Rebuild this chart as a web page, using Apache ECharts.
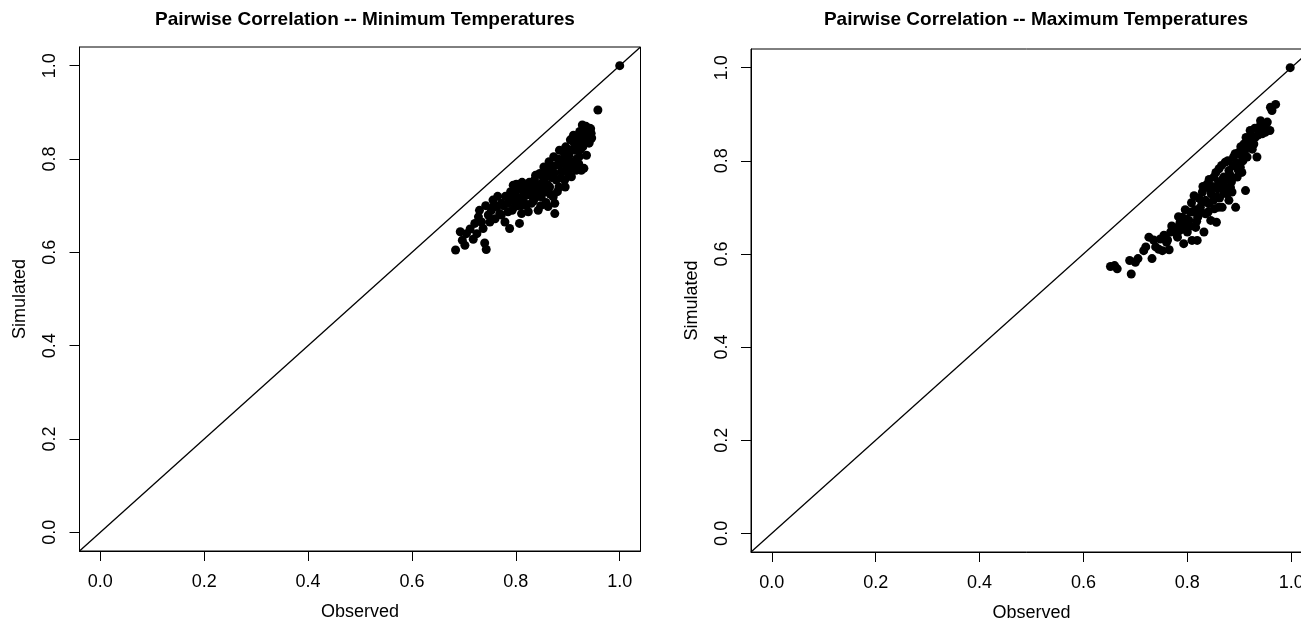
<!DOCTYPE html>
<html>
<head>
<meta charset="utf-8">
<script src="https://cdn.jsdelivr.net/npm/echarts@6/dist/echarts.min.js"></script>
<style>
  html, body { margin: 0; padding: 0; background: #fff; }
  #chart { width: 1301px; height: 618px; }
</style>
</head>
<body>
<div id="chart"></div>
<script>
// tick positions shared by both panels
var tickVals = [0, 0.2, 0.4, 0.6, 0.8, 1.0]
// y = x reference line, drawn across the padded axis range
var diagonal = [-0.04, 1.04]

// minimum temperatures
var minObserved = [0.684, 0.693, 0.697, 0.702, 0.718, 0.721, 0.734, 0.737, 0.740, 0.743,
  0.747, 0.753, 0.756, 0.763, 0.769, 0.772, 0.779, 0.785, 0.788, 0.791,
  0.795, 0.798, 0.801, 0.807, 0.807, 0.811, 0.814, 0.817, 0.822, 0.824,
  0.827, 0.830, 0.833, 0.836, 0.840, 0.843, 0.845, 0.846, 0.849, 0.851,
  0.854, 0.856, 0.859, 0.862, 0.864, 0.865, 0.868, 0.872, 0.873, 0.875,
  0.878, 0.879, 0.883, 0.884, 0.888, 0.891, 0.894, 0.896, 0.899, 0.902,
  0.905, 0.907, 0.909, 0.911, 0.913, 0.916, 0.918, 0.922, 0.923, 0.926,
  0.928, 0.929, 0.932, 0.934, 0.936, 0.939, 0.942, 0.943, 0.941, 0.945,
  0.931, 0.902, 0.875, 0.958, 1.000, 0.760, 0.776, 0.790, 0.804, 0.820,
  0.838, 0.853, 0.870, 0.886, 0.897, 0.915, 0.925, 0.812, 0.858, 0.728,
  0.705, 0.712, 0.725, 0.730, 0.742, 0.750, 0.758, 0.765, 0.772, 0.780,
  0.784, 0.793, 0.796, 0.800, 0.805, 0.810, 0.816, 0.820, 0.826, 0.830,
  0.834, 0.838, 0.842, 0.848, 0.852, 0.857, 0.861, 0.866, 0.870, 0.874,
  0.880, 0.882, 0.887, 0.892, 0.895, 0.900, 0.904, 0.908, 0.912, 0.917,
  0.920, 0.924, 0.927, 0.933, 0.938, 0.944, 0.946, 0.935, 0.921, 0.895]
var minSimulated = [0.605, 0.644, 0.626, 0.615, 0.628, 0.662, 0.665, 0.651, 0.620, 0.606,
  0.680, 0.690, 0.712, 0.698, 0.683, 0.705, 0.665, 0.687, 0.651, 0.719,
  0.744, 0.698, 0.746, 0.662, 0.716, 0.683, 0.733, 0.705, 0.740, 0.687,
  0.723, 0.705, 0.740, 0.755, 0.719, 0.690, 0.737, 0.769, 0.719, 0.748,
  0.783, 0.730, 0.762, 0.698, 0.794, 0.740, 0.773, 0.719, 0.805, 0.705,
  0.755, 0.787, 0.740, 0.819, 0.773, 0.798, 0.755, 0.826, 0.783, 0.808,
  0.841, 0.762, 0.794, 0.851, 0.819, 0.776, 0.841, 0.805, 0.859, 0.776,
  0.873, 0.826, 0.844, 0.862, 0.808, 0.851, 0.866, 0.841, 0.834, 0.855,
  0.780, 0.766, 0.683, 0.905, 1.000, 0.672, 0.700, 0.730, 0.700, 0.722,
  0.730, 0.760, 0.760, 0.790, 0.800, 0.830, 0.840, 0.750, 0.707, 0.676,
  0.640, 0.650, 0.640, 0.690, 0.700, 0.665, 0.700, 0.720, 0.680, 0.720,
  0.705, 0.690, 0.712, 0.730, 0.745, 0.700, 0.725, 0.700, 0.750, 0.730,
  0.710, 0.765, 0.745, 0.700, 0.735, 0.775, 0.745, 0.725, 0.785, 0.770,
  0.730, 0.800, 0.760, 0.815, 0.775, 0.790, 0.820, 0.780, 0.835, 0.800,
  0.850, 0.820, 0.860, 0.835, 0.845, 0.865, 0.845, 0.870, 0.790, 0.740]

// maximum temperatures
var maxObserved = [0.652, 0.665, 0.689, 0.692, 0.700, 0.716, 0.726, 0.732, 0.739, 0.748,
  0.752, 0.765, 0.768, 0.774, 0.781, 0.786, 0.790, 0.793, 0.800, 0.803,
  0.806, 0.809, 0.813, 0.816, 0.819, 0.820, 0.825, 0.829, 0.832, 0.835,
  0.838, 0.841, 0.845, 0.846, 0.851, 0.852, 0.856, 0.857, 0.861, 0.864,
  0.867, 0.870, 0.873, 0.877, 0.880, 0.883, 0.886, 0.889, 0.893, 0.896,
  0.899, 0.902, 0.905, 0.909, 0.912, 0.915, 0.918, 0.921, 0.925, 0.928,
  0.931, 0.934, 0.938, 0.941, 0.944, 0.947, 0.950, 0.954, 0.959, 0.960,
  0.970, 0.963, 0.998, 0.795, 0.812, 0.828, 0.843, 0.860, 0.875, 0.890,
  0.905, 0.920, 0.760, 0.785, 0.870,
  0.660, 0.705, 0.720, 0.735, 0.745, 0.755, 0.762, 0.770, 0.778, 0.783,
  0.788, 0.796, 0.798, 0.805, 0.808, 0.815, 0.818, 0.822, 0.826, 0.830,
  0.835, 0.840, 0.842, 0.848, 0.850, 0.855, 0.858, 0.862, 0.866, 0.868,
  0.872, 0.878, 0.882, 0.885, 0.888, 0.892, 0.895, 0.898, 0.903, 0.907,
  0.910, 0.913, 0.916, 0.923, 0.926, 0.930, 0.936, 0.940, 0.946, 0.952,
  0.860, 0.880]
var maxSimulated = [0.573, 0.568, 0.586, 0.557, 0.582, 0.607, 0.636, 0.590, 0.615, 0.632,
  0.607, 0.609, 0.647, 0.657, 0.636, 0.668, 0.679, 0.622, 0.647, 0.672,
  0.690, 0.629, 0.725, 0.657, 0.629, 0.679, 0.700, 0.733, 0.647, 0.686,
  0.750, 0.708, 0.672, 0.729, 0.765, 0.697, 0.668, 0.722, 0.783, 0.743,
  0.700, 0.765, 0.797, 0.729, 0.779, 0.743, 0.733, 0.808, 0.700, 0.765,
  0.818, 0.786, 0.775, 0.836, 0.736, 0.808, 0.847, 0.865, 0.825, 0.836,
  0.851, 0.808, 0.868, 0.886, 0.858, 0.876, 0.861, 0.883, 0.865, 0.915,
  0.921, 0.908, 1.000, 0.660, 0.690, 0.710, 0.740, 0.755, 0.760, 0.790,
  0.810, 0.840, 0.625, 0.650, 0.730,
  0.575, 0.590, 0.615, 0.630, 0.610, 0.640, 0.630, 0.660, 0.645, 0.680,
  0.655, 0.695, 0.675, 0.660, 0.710, 0.695, 0.670, 0.720, 0.690, 0.745,
  0.715, 0.690, 0.760, 0.745, 0.715, 0.775, 0.740, 0.720, 0.790, 0.760,
  0.745, 0.800, 0.770, 0.755, 0.790, 0.815, 0.795, 0.780, 0.830, 0.800,
  0.820, 0.850, 0.830, 0.855, 0.845, 0.870, 0.855, 0.875, 0.870, 0.880,
  0.700, 0.715]

var titles = ['Pairwise Correlation -- Minimum Temperatures', 'Pairwise Correlation -- Maximum Temperatures']

var font = '"Liberation Sans", Arial, sans-serif'

function zip(a, b) {
  return a.map(function (v, i) { return [v, b[i]] })
}

function makeAxis(idx, name, isY) {
  return {
    type: 'value',
    gridIndex: idx,
    min: diagonal[0],
    max: diagonal[1],
    name: name,
    nameLocation: 'middle',
    nameGap: isY ? 50 : 52,
    nameTextStyle: { color: '#000', fontSize: 18, fontFamily: font },
    axisLine: { show: true, onZero: false, lineStyle: { color: '#000', width: 1 } },
    axisTick: { show: true, inside: false, length: 10, customValues: tickVals, lineStyle: { color: '#000', width: 1 } },
    axisLabel: {
      show: true,
      customValues: tickVals,
      rotate: isY ? 90 : 0,
      margin: isY ? 20 : 22,
      color: '#000',
      fontSize: 18,
      fontFamily: font,
      formatter: function (v) { return v.toFixed(1) }
    },
    splitLine: { show: false }
  }
}

var chart = echarts.init(document.getElementById('chart'), null, { renderer: 'canvas' })

var grids = [
  { left: 79.5, top: 47, width: 561, height: 504 },
  { left: 751, top: 49, width: 561, height: 503 }
]

var titleStyle = { fontSize: 19, fontWeight: 'bold', color: '#000', fontFamily: font }

var option = {
  backgroundColor: '#fff',
  animation: false,
  title: [
    { text: titles[0], left: 360, top: 5, textAlign: 'center', textStyle: titleStyle },
    { text: titles[1], left: 1031, top: 5, textAlign: 'center', textStyle: titleStyle }
  ],
  grid: grids.map(function (g) {
    return Object.assign({
      show: true, borderColor: '#000', borderWidth: 1, backgroundColor: 'transparent',
      containLabel: false, outerBoundsMode: 'none'
    }, g)
  }),
  xAxis: [makeAxis(0, 'Observed', false), makeAxis(1, 'Observed', false)],
  yAxis: [makeAxis(0, 'Simulated', true), makeAxis(1, 'Simulated', true)],
  series: [
    {
      type: 'scatter', xAxisIndex: 0, yAxisIndex: 0,
      data: zip(minObserved, minSimulated),
      symbol: 'circle', symbolSize: 9,
      itemStyle: { color: '#000', opacity: 1 }
    },
    {
      type: 'scatter', xAxisIndex: 1, yAxisIndex: 1,
      data: zip(maxObserved, maxSimulated),
      symbol: 'circle', symbolSize: 9,
      itemStyle: { color: '#000', opacity: 1 }
    },
    {
      type: 'line', xAxisIndex: 0, yAxisIndex: 0,
      data: zip(diagonal, diagonal),
      symbol: 'none', silent: true,
      lineStyle: { color: '#000', width: 1.3 }
    },
    {
      type: 'line', xAxisIndex: 1, yAxisIndex: 1,
      data: zip(diagonal, diagonal),
      symbol: 'none', silent: true,
      lineStyle: { color: '#000', width: 1.3 }
    }
  ]
}

chart.setOption(option)
</script>
</body>
</html>
